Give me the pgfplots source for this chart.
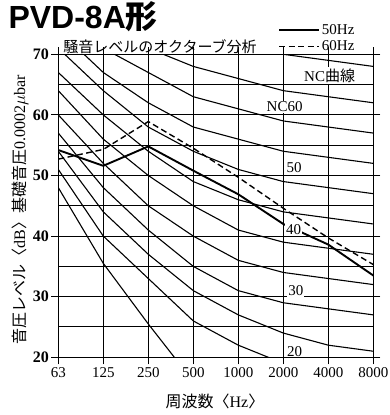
\documentclass[border=0pt]{standalone}
\usepackage{pgfplots}
\pgfplotsset{compat=1.18}
\usepackage{fontspec}
\setmainfont{Liberation Serif}
\newfontfamily\jp{Noto Sans CJK JP}
\newfontfamily\sans{Liberation Sans}
\begin{document}
\begin{tikzpicture}[x=1pt,y=1pt]
\path[use as bounding box] (0,0) rectangle (389,415);
\begin{axis}[
  at={(58.3pt,57.7pt)}, anchor=south west,
  scale only axis, width=315pt, height=303pt,
  xmin=0, xmax=7, ymin=20, ymax=70,
  xtick={0,...,7}, xticklabels={63,125,250,500,1000,2000,4000,8000},
  ytick={20,30,...,70}, minor ytick={25,35,...,65},
  xmajorgrids, ymajorgrids, yminorgrids,
  grid style={black, line width=1pt},
  minor grid style={black, line width=1pt},
  axis line style={black, line width=1.2pt},
  tick align=outside, major tick length=7pt, minor tick length=0pt,
  tick style={black, line width=1pt},
  xticklabel style={font=\fontsize{15}{15}\selectfont},
  yticklabel style={font=\fontsize{16}{16}\selectfont\bfseries, xshift=1pt},
  /pgf/number format/assume math mode=true,
  legend style={at={(0.697,1.107)}, anchor=north west, draw=none, fill=none,
    font=\fontsize{15}{15}\selectfont, row sep=1pt, inner sep=0pt},
  legend cell align=left,
  legend image code/.code={\draw[#1] (0pt,0pt) -- (40pt,0pt);},
]
% NC curves
\addplot[black, line width=1.1pt, forget plot] coordinates {(0,48) (1,35.5) (2,25.5) (3,16)};
\addplot[black, line width=1.1pt, forget plot] coordinates {(0,51) (1,40) (2,33) (3,26) (4,22) (5,19) (6,17) (7,16)};
\addplot[black, line width=1.1pt, forget plot] coordinates {(0,54) (1,44) (2,37) (3,31) (4,27) (5,24) (6,22) (7,21)};
\addplot[black, line width=1.1pt, forget plot] coordinates {(0,57) (1,48) (2,41) (3,35) (4,31) (5,29) (6,28) (7,27)};
\addplot[black, line width=1.1pt, forget plot] coordinates {(0,60) (1,52) (2,45) (3,40) (4,36) (5,34) (6,33) (7,32)};
\addplot[black, line width=1.1pt, forget plot] coordinates {(0,64) (1,56) (2,50) (3,45) (4,41) (5,39) (6,38) (7,37)};
\addplot[black, line width=1.1pt, forget plot] coordinates {(0,67) (1,60) (2,54) (3,49) (4,46) (5,44) (6,43) (7,42)};
\addplot[black, line width=1.1pt, forget plot] coordinates {(0,71) (1,64) (2,58) (3,54) (4,51) (5,49) (6,48) (7,47)};
\addplot[black, line width=1.1pt, forget plot] coordinates {(0,74) (1,67) (2,62) (3,58) (4,56) (5,54) (6,53) (7,52)};
\addplot[black, line width=1.1pt, forget plot] coordinates {(0,77) (1,71) (2,67) (3,63) (4,61) (5,59) (6,58) (7,57)};
\addplot[black, line width=1.1pt, forget plot] coordinates {(0,80) (1,75) (2,71) (3,68) (4,66) (5,64) (6,63) (7,62)};
\addplot[black, line width=1.1pt, forget plot] coordinates {(0,83) (1,79) (2,75) (3,72) (4,71) (5,70) (6,69) (7,68)};
% measured data
\addplot[black, line width=1.9pt] coordinates {(0,54.2) (1,51.6) (2,54.8) (3,50.8) (4,46.9) (5,42.0) (6,38.6) (7,33.5)};
\addlegendentry{50Hz}
\addplot[black, line width=1.4pt, dash pattern=on 6pt off 3.5pt] coordinates {(0,52.7) (1,54.3) (2,58.9) (3,54.5) (4,49.7) (5,44.6) (6,39.7) (7,35.3)};
\addlegendentry{60Hz}
% labels
\node[fill=white, inner sep=1.5pt, font=\fontsize{15}{15}\selectfont] at (axis cs:6.03,66.45) {NC{\jp 曲線}};
\node[fill=white, inner sep=1pt, font=\fontsize{15}{15}\selectfont] at (axis cs:5.03,61.35) {NC60};
\node[fill=white, inner sep=1pt, font=\fontsize{15}{15}\selectfont] at (axis cs:5.24,51.3) {50};
\node[fill=white, inner sep=1pt, font=\fontsize{15}{15}\selectfont] at (axis cs:5.23,41.1) {40};
\node[fill=white, inner sep=1pt, font=\fontsize{15}{15}\selectfont] at (axis cs:5.28,31.0) {30};
\node[fill=white, inner sep=1pt, font=\fontsize{15}{15}\selectfont] at (axis cs:5.25,21.0) {20};
\end{axis}
\node[anchor=west, font=\fontsize{32}{32}\selectfont\sans\bfseries] at (5,398) {PVD-8A{\jp\bfseries 形}};
\node[font=\fontsize{15}{15}\selectfont\jp] at (160,368) {騒音レベルのオクターブ分析};
\node[rotate=90, font=\fontsize{16}{16}\selectfont] at (20,205) {{\jp 音圧レベル〈}dB{\jp 〉基礎音圧}0.0002$\mu$bar};
\node[font=\fontsize{16}{16}\selectfont] at (215,14) {{\jp 周波数〈}Hz{\jp 〉}};
\end{tikzpicture}
\end{document}
